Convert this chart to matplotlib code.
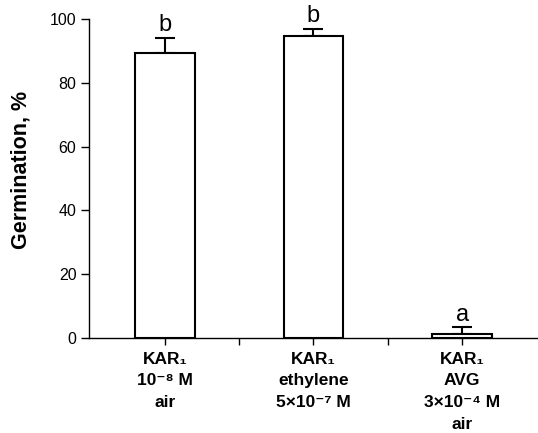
import matplotlib
matplotlib.use("Agg")
from matplotlib import pyplot as plt

plt.rcParams['font.family'] = ['Liberation Sans', 'DejaVu Sans']

# data
labels = ['KAR\u2081\n10\u207b\u2078 M\nair',
          'KAR\u2081\nethylene\n5\u00d710\u207b\u2077 M',
          'KAR\u2081\nAVG\n3\u00d710\u207b\u2074 M\nair']
germination = [89.4, 94.7, 1.3]
err = [4.6, 2.1, 2.0]
letters = ['b', 'b', 'a']

fig = plt.figure(figsize=(5.38, 4.33), dpi=100)
ax = fig.add_axes([0.1654, 0.2194, 0.8346, 0.7367])

x = list(range(len(germination)))
ax.bar(x, germination, width=0.4, color='white', edgecolor='black', linewidth=1.5, zorder=2)
ax.errorbar(x, germination, yerr=[[0] * len(err), err], fmt='none', ecolor='black',
            elinewidth=1.5, capsize=7, capthick=1.5, zorder=1)

for i in x:
    ax.text(i, germination[i] + err[i] + 0.6, letters[i], ha='center', va='bottom', fontsize=17)

ax.set_xlim(-0.51, 2.51)
ax.set_ylim(0, 100)
ax.set_yticks([0, 20, 40, 60, 80, 100])
ax.set_xticks(x)
ax.set_xticks([0.5, 1.5], minor=True)
ax.set_xticklabels(labels, fontsize=12.5, fontweight='bold', linespacing=1.55)
ax.tick_params(axis='y', labelsize=11.5, length=6, width=1, pad=3)
ax.tick_params(axis='x', which='both', length=5, width=1, pad=5)

ax.spines['top'].set_visible(False)
ax.spines['right'].set_visible(False)
ax.spines['left'].set_linewidth(1)
ax.spines['bottom'].set_linewidth(1)

ax.set_ylabel('Germination, %', fontsize=15.5, fontweight='bold')
ax.yaxis.set_label_coords(-0.128, 0.527)

fig.savefig('out.png', dpi=100)
